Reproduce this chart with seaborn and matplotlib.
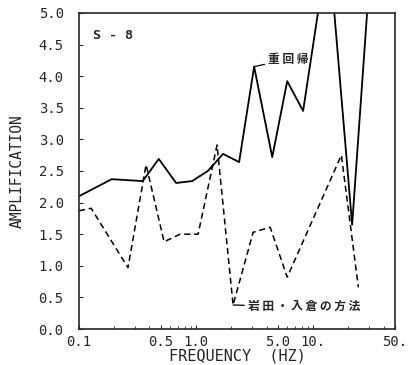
import numpy as np
import pandas as pd
import matplotlib
matplotlib.use('Agg')
import matplotlib.pyplot as plt
import seaborn as sns

# 重回帰 (solid)
sol_freq = [0.1, 0.19, 0.35, 0.48, 0.675, 0.925, 1.26, 1.70, 2.33, 3.13, 4.47, 6.0, 8.2, 13.5, 21.5, 35.0]
sol_amp = [2.10, 2.37, 2.34, 2.69, 2.31, 2.34, 2.50, 2.77, 2.64, 4.15, 2.72, 3.92, 3.45, 6.1, 1.65, 7.2]

# 岩田・入倉の方法 (dashed)
dash_freq = [0.1, 0.127, 0.262, 0.374, 0.533, 0.73, 1.04, 1.51, 2.07, 3.07, 4.29, 6.0, 17.4, 24.3]
dash_amp = [1.87, 1.91, 0.97, 2.60, 1.38, 1.50, 1.50, 2.91, 0.38, 1.53, 1.61, 0.82, 2.75, 0.66]

xticks = [0.1, 0.5, 1.0, 5.0, 10.0, 50.0]
xtick_labels = ['0.1', '0.5', '1.0', '5.0', '10.', '50.']
yticks = [0.0, 0.5, 1.0, 1.5, 2.0, 2.5, 3.0, 3.5, 4.0, 4.5, 5.0]
ytick_labels = ['0.0', '0.5', '1.0', '1.5', '2.0', '2.5', '3.0', '3.5', '4.0', '4.5', '5.0']

sns.set_style('ticks')
plt.rcParams['font.family'] = ['DejaVu Sans Mono', 'Noto Sans CJK JP']

df_sol = pd.DataFrame({'freq': sol_freq, 'amp': sol_amp})
df_dash = pd.DataFrame({'freq': dash_freq, 'amp': dash_amp})

fig = plt.figure(figsize=(4.17, 3.65), dpi=100)
ax = fig.add_axes([0.1894, 0.0986, 0.758, 0.866])

sns.lineplot(data=df_sol, x='freq', y='amp', ax=ax, color='black', lw=1.3,
             estimator=None, sort=False)
sns.lineplot(data=df_dash, x='freq', y='amp', ax=ax, color='black', lw=1.1,
             linestyle=(0, (4, 2.5)), estimator=None, sort=False)

ax.set_xscale('log')
ax.set_xlim(0.1, 50)
ax.set_ylim(0, 5)
ax.set_xticks(xticks)
ax.set_xticklabels(xtick_labels)
ax.set_yticks(yticks)
ax.set_yticklabels(ytick_labels)
ax.tick_params(axis='both', direction='in', length=3, width=0.8, labelsize=10)
ax.tick_params(axis='x', pad=4)
ax.tick_params(axis='y', pad=11)
ax.tick_params(axis='x', which='minor', direction='in', length=2, width=0.6)
ax.tick_params(axis='y', which='minor', left=False)
for s in ax.spines.values():
    s.set_linewidth(1.2)
    s.set_visible(True)

ax.set_xlabel('FREQUENCY  (HZ)', fontsize=11, labelpad=0)
ax.set_ylabel('AMPLIFICATION', fontsize=10.5, labelpad=10)

ax.text(0.045, 0.93, 'S - 8', transform=ax.transAxes, fontsize=9.5, fontweight='bold',
        va='center', ha='left')

ax.annotate('重 回 帰', xy=(3.13, 4.15), xytext=(4.1, 4.27), fontsize=8.5,
            fontweight='bold', family=['Noto Sans CJK JP'], va='center', ha='left',
            arrowprops=dict(arrowstyle='-', color='black', lw=0.9, shrinkA=0, shrinkB=0))
ax.annotate('岩 田 ・ 入 倉 の 方 法', xy=(2.07, 0.38), xytext=(2.75, 0.35), fontsize=8.5,
            fontweight='bold', family=['Noto Sans CJK JP'], va='center', ha='left',
            arrowprops=dict(arrowstyle='-', color='black', lw=0.9, shrinkA=0, shrinkB=0))

fig.savefig('out.png', dpi=100)
